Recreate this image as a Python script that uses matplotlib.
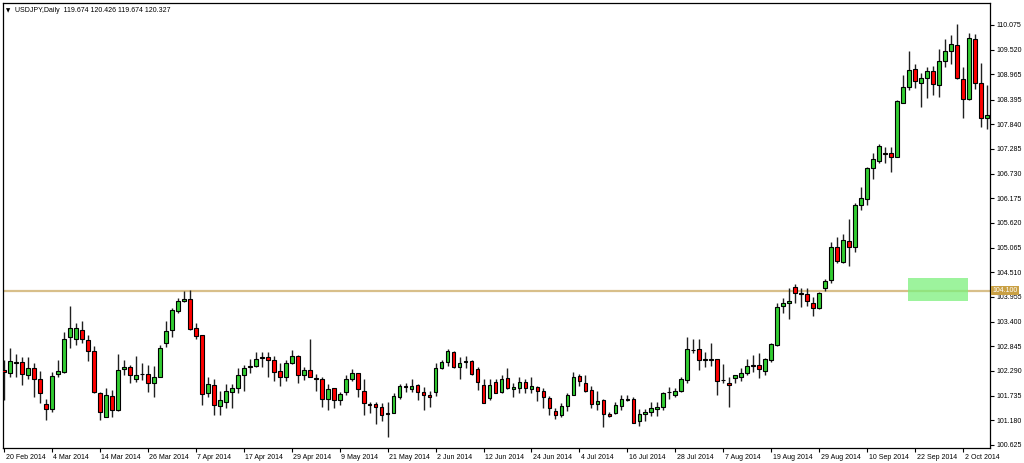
import numpy as np
import matplotlib
matplotlib.use("Agg")
from matplotlib import pyplot as plt
from matplotlib.patches import Rectangle
from matplotlib.transforms import ScaledTranslation

plt.rcParams["font.family"] = ["Liberation Sans", "DejaVu Sans"]

# USDJPY daily, 20 Feb 2014 .. 8 Oct 2014 (one bar per weekday)
opens = [
    102.31, 102.25, 102.48, 102.49, 102.20, 102.35, 102.10, 101.55, 101.43, 102.23,
    102.27, 103.06, 103.00, 103.21, 102.98, 102.74, 101.79, 101.26, 101.73, 101.41,
    102.33, 102.39, 102.12, 102.23, 102.23, 102.01, 102.16, 102.91, 103.21, 103.65,
    103.86, 103.91, 103.25, 103.09, 101.80, 101.97, 101.51, 101.60, 101.82, 101.90,
    102.21, 102.40, 102.40, 102.60, 102.60, 102.53, 102.29, 102.15, 102.46, 102.63,
    102.20, 102.31, 102.13, 102.12, 101.65, 101.90, 101.64, 101.82, 102.10, 102.24,
    101.85, 101.55, 101.54, 101.47, 101.34, 101.35, 101.70, 101.94, 101.89, 101.97,
    101.82, 101.76, 101.82, 102.35, 102.49, 102.72, 102.39, 102.50, 102.51, 102.33,
    101.97, 101.69, 102.04, 101.82, 102.14, 101.88, 101.91, 102.05, 101.89, 101.94,
    101.84, 101.69, 101.39, 101.29, 101.51, 101.76, 102.18, 102.03, 101.86, 101.54,
    101.64, 101.32, 101.34, 101.51, 101.64, 101.67, 101.17, 101.32, 101.36, 101.43,
    101.47, 101.81, 101.74, 101.84, 102.09, 102.76, 102.78, 102.54, 102.54, 102.57,
    102.09, 102.03, 102.14, 102.16, 102.24, 102.42, 102.42, 102.29, 102.54, 102.87,
    103.76, 103.83, 104.19, 104.04, 104.02, 103.83, 103.70, 104.15, 104.33, 105.08,
    104.75, 105.22, 105.07, 106.02, 106.16, 106.85, 107.02, 107.19, 107.19, 107.10,
    108.33, 108.67, 109.08, 108.78, 108.88, 109.03, 108.72, 109.27, 109.48, 109.63,
    108.86, 108.42, 109.75, 108.76, 107.99,
]
highs = [
    102.54, 102.81, 102.67, 102.61, 102.60, 102.48, 102.30, 101.66, 102.27, 102.54,
    103.16, 103.75, 103.38, 103.41, 103.10, 102.85, 101.82, 101.90, 101.86, 102.67,
    102.54, 102.42, 102.63, 102.48, 102.42, 102.40, 102.87, 103.42, 103.70, 103.93,
    104.10, 104.11, 103.38, 103.10, 102.15, 102.11, 101.84, 101.99, 101.99, 102.35,
    102.42, 102.56, 102.72, 102.72, 102.72, 102.63, 102.48, 102.54, 102.76, 102.65,
    102.37, 103.00, 102.22, 102.15, 101.99, 101.91, 101.81, 102.20, 102.34, 102.25,
    102.10, 101.60, 101.59, 101.58, 101.59, 101.80, 102.00, 102.03, 102.12, 102.00,
    101.92, 101.85, 102.48, 102.54, 102.78, 102.74, 102.60, 102.63, 102.54, 102.37,
    102.12, 102.11, 102.10, 102.21, 102.35, 102.01, 102.16, 102.12, 102.16, 101.95,
    101.90, 101.73, 101.46, 101.56, 101.80, 102.26, 102.22, 102.20, 101.95, 101.84,
    101.67, 101.36, 101.60, 101.76, 101.76, 101.70, 101.43, 101.43, 101.59, 101.60,
    101.82, 101.92, 101.90, 102.16, 103.06, 103.00, 103.02, 102.72, 102.93, 102.57,
    102.44, 102.16, 102.21, 102.35, 102.55, 102.65, 102.70, 102.59, 102.91, 103.83,
    103.94, 104.16, 104.25, 104.15, 104.15, 103.95, 104.07, 104.35, 105.19, 105.31,
    105.37, 105.70, 106.06, 106.44, 106.89, 107.19, 107.40, 107.34, 107.32, 108.39,
    108.95, 109.48, 109.20, 109.00, 109.14, 109.15, 109.53, 109.75, 109.85, 110.10,
    109.12, 109.90, 109.87, 109.23, 108.73,
]
lows = [
    101.64, 102.16, 102.15, 101.97, 102.10, 101.70, 101.58, 101.19, 101.37, 102.16,
    102.25, 102.81, 102.87, 102.91, 102.51, 101.80, 101.19, 101.25, 101.26, 101.39,
    102.20, 102.01, 102.05, 102.09, 101.82, 101.70, 102.15, 102.84, 103.06, 103.59,
    103.84, 103.21, 103.00, 101.52, 101.70, 101.30, 101.30, 101.45, 101.46, 101.80,
    101.84, 102.24, 102.37, 102.37, 102.15, 102.07, 101.95, 102.06, 102.44, 102.01,
    102.09, 102.15, 101.85, 101.47, 101.41, 101.45, 101.52, 101.75, 102.07, 101.70,
    101.31, 101.34, 101.09, 101.17, 100.81, 101.34, 101.67, 101.82, 101.82, 101.64,
    101.41, 101.47, 101.73, 102.33, 102.40, 102.35, 102.10, 102.35, 102.20, 101.86,
    101.56, 101.64, 101.79, 101.79, 101.88, 101.71, 101.79, 101.80, 101.80, 101.62,
    101.46, 101.30, 101.22, 101.26, 101.40, 101.75, 101.95, 101.82, 101.45, 101.41,
    101.04, 101.25, 101.32, 101.41, 101.62, 101.13, 101.06, 101.16, 101.28, 101.28,
    101.41, 101.67, 101.71, 101.82, 102.03, 102.70, 102.31, 102.39, 102.40, 101.75,
    102.01, 101.49, 102.01, 102.07, 102.21, 102.27, 102.13, 102.20, 102.50, 102.85,
    103.59, 103.47, 103.83, 103.74, 103.75, 103.53, 103.68, 104.09, 104.28, 104.73,
    104.73, 104.66, 104.96, 105.91, 106.02, 106.62, 106.96, 106.98, 106.77, 107.10,
    108.31, 108.61, 108.65, 108.24, 108.44, 108.50, 108.46, 109.12, 109.19, 108.85,
    107.99, 108.39, 108.63, 107.79, 107.73,
]
closes = [
    102.27, 102.51, 102.47, 102.22, 102.35, 102.10, 101.79, 101.43, 102.17, 102.29,
    103.02, 103.25, 103.25, 103.00, 102.74, 101.82, 101.37, 101.75, 101.41, 102.31,
    102.37, 102.20, 102.21, 102.22, 102.03, 102.15, 102.81, 103.20, 103.66, 103.86,
    103.90, 103.23, 103.08, 101.77, 101.99, 101.52, 101.64, 101.84, 101.91, 102.21,
    102.36, 102.39, 102.57, 102.59, 102.53, 102.27, 102.16, 102.48, 102.63, 102.20,
    102.31, 102.16, 102.12, 101.67, 101.88, 101.64, 101.77, 102.11, 102.24, 101.89,
    101.56, 101.52, 101.47, 101.31, 101.33, 101.73, 101.95, 101.93, 101.95, 101.82,
    101.76, 101.71, 102.35, 102.49, 102.74, 102.39, 102.48, 102.51, 102.22, 102.05,
    101.58, 101.97, 101.80, 102.12, 101.90, 101.93, 102.04, 101.91, 101.95, 101.85,
    101.70, 101.45, 101.30, 101.50, 101.75, 102.16, 102.07, 101.85, 101.55, 101.61,
    101.32, 101.28, 101.52, 101.67, 101.67, 101.13, 101.32, 101.37, 101.46, 101.49,
    101.80, 101.81, 101.84, 102.11, 102.78, 102.77, 102.54, 102.55, 102.57, 102.07,
    102.08, 101.98, 102.19, 102.25, 102.40, 102.41, 102.33, 102.55, 102.89, 103.74,
    103.83, 103.86, 104.04, 104.03, 103.86, 103.70, 104.04, 104.32, 105.08, 104.77,
    105.24, 105.07, 106.02, 106.19, 106.85, 107.07, 107.35, 107.18, 107.11, 108.36,
    108.67, 109.06, 108.81, 108.89, 109.04, 108.74, 109.27, 109.48, 109.64, 108.88,
    108.40, 109.78, 108.76, 107.98, 108.05,
]

date_labels = ["20 Feb 2014", "4 Mar 2014", "14 Mar 2014", "26 Mar 2014", "7 Apr 2014",
               "17 Apr 2014", "29 Apr 2014", "9 May 2014", "21 May 2014", "2 Jun 2014",
               "12 Jun 2014", "24 Jun 2014", "4 Jul 2014", "16 Jul 2014", "28 Jul 2014",
               "7 Aug 2014", "19 Aug 2014", "29 Aug 2014", "10 Sep 2014", "22 Sep 2014",
               "2 Oct 2014"]
label_step = 8  # bars between date labels

price_ticks = [100.625, 101.180, 101.735, 102.290, 102.845, 103.400, 103.955, 104.510,
               105.065, 105.620, 106.175, 106.730, 107.285, 107.840, 108.395, 108.965,
               109.520, 110.075]
level = 104.100
zone_bars = (150.8, 160.8)
zone_prices = (103.864, 104.382)
header = "USDJPY,Daily  119.674 120.426 119.674 120.327"

up_color = "#32cd32"
down_color = "#ff0000"
fsize = 5.0

o = np.array(opens)
h = np.array(highs)
l = np.array(lows)
c = np.array(closes)
x = np.arange(len(o))

fig = plt.figure(figsize=(10.24, 4.63), dpi=100)
ax = fig.add_axes([3 / 1024, 1 - 448 / 463, 987 / 1024, 445 / 463])

ax.vlines(x, l, h, color="#202020", linewidth=1.0, zorder=2)
up = c >= o
body_lo = np.minimum(o, c)
body_hi = np.maximum(o, c)
heights = np.maximum(body_hi - body_lo, 0.012)
colors = np.where(up, up_color, down_color)
ax.bar(x, heights, bottom=body_lo, width=0.62, color=colors,
       edgecolor="black", linewidth=0.8, zorder=3)

# support level and target zone
ax.axhline(level, color="#d8bf8a", linewidth=1.6, zorder=1)
ax.add_patch(Rectangle((zone_bars[0], zone_prices[0]), zone_bars[1] - zone_bars[0],
                       zone_prices[1] - zone_prices[0], facecolor="#7cf07c",
                       alpha=0.75, edgecolor="none", zorder=4))

ax.set_xlim(-0.17, 164.5)
ax.set_ylim(100.557, 110.57)

ax.yaxis.tick_right()
ax.set_yticks(price_ticks)
ax.set_yticklabels([f"{p:.3f}" for p in price_ticks])
ax.tick_params(axis="y", direction="out", length=3, width=0.8, pad=1.5,
               labelsize=fsize, colors="black")

tick_pos = np.arange(0, len(date_labels) * label_step, label_step)
ax.set_xticks(tick_pos)
ax.set_xticklabels(date_labels, ha="left")
ax.tick_params(axis="x", direction="out", length=3, width=0.8, pad=1.5,
               labelsize=fsize, colors="black")
shift = ScaledTranslation(1.5 / 100, 0, fig.dpi_scale_trans)
for lab in ax.get_xticklabels():
    lab.set_transform(lab.get_transform() + shift)

for sp in ax.spines.values():
    sp.set_linewidth(0.9)
    sp.set_color("black")

# price label for the level on the right axis
ax.text(1.002, level, "104.100", transform=ax.get_yaxis_transform(),
        ha="left", va="center", fontsize=fsize, color="white", zorder=6,
        bbox=dict(boxstyle="square,pad=0.2", facecolor="#c9a044", edgecolor="none"),
        clip_on=False)

ax.text(0.003, 0.988, "\u25bc", transform=ax.transAxes, ha="left", va="top",
        fontsize=4, color="black", family="DejaVu Sans")
ax.text(0.012, 0.99, header, transform=ax.transAxes, ha="left", va="top",
        fontsize=fsize, color="black")

fig.savefig("out.png", dpi=100, facecolor="white")
